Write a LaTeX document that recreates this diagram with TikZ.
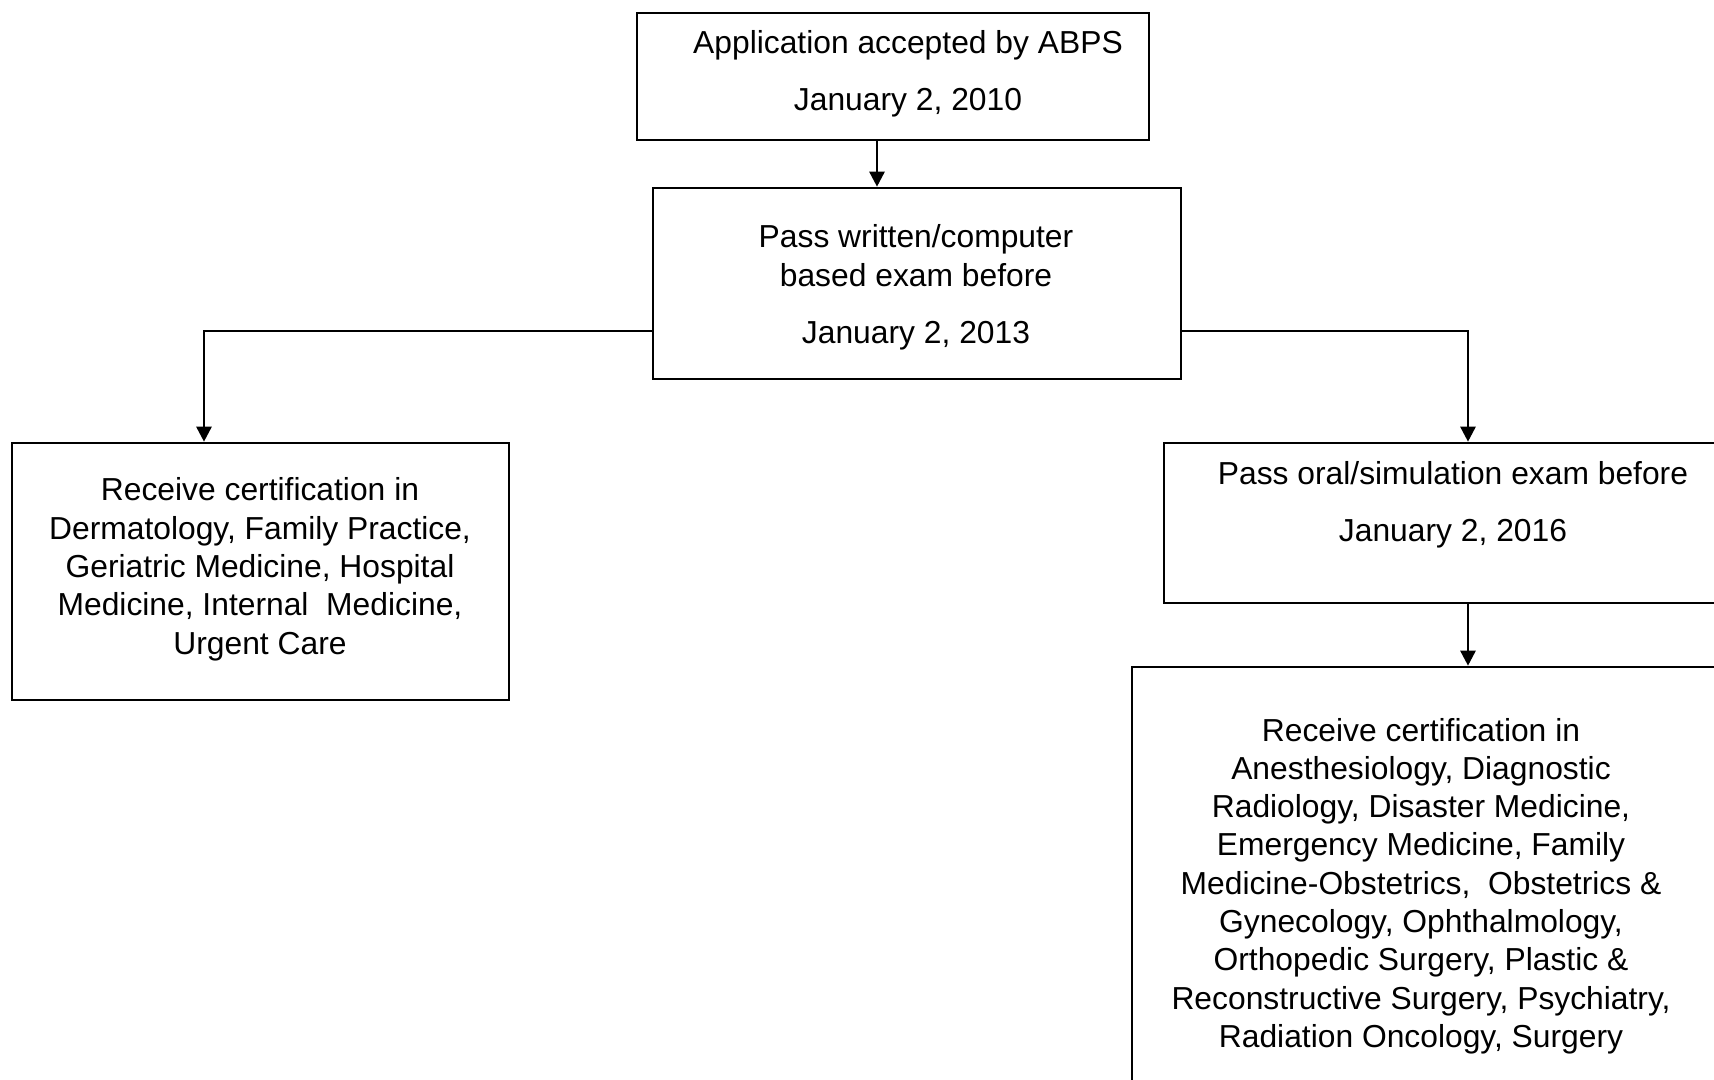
\documentclass[tikz,border=0pt]{standalone}
\usepackage{fontspec}
\setmainfont{Liberation Sans}
\usetikzlibrary{arrows.meta}
\begin{document}
\begin{tikzpicture}[x=0.5pt,y=-0.5pt,
  box/.style={draw=black,line width=1.3pt,fill=none,inner sep=0pt,minimum width=#1},
  txt/.style={anchor=base,inner sep=0pt,font=\fontsize{15.9pt}{19pt}\selectfont},
  arr/.style={line width=1.3pt,-{Triangle[length=7.5pt,width=7.5pt]}}]
\useasboundingbox (0,0) rectangle (1714,1080);
\clip (0,0) rectangle (1714,1080);
% boxes
\node[box=256pt,minimum height=63.5pt] (top) at (893,76.5) {};
\node[box=264pt,minimum height=95.5pt] (mid) at (917,283.5) {};
\node[box=248.5pt,minimum height=128.5pt] (left) at (260.5,571.5) {};
\node[box=278pt,minimum height=80pt] (right) at (1442,523) {};
\node[box=294pt,minimum height=211.5pt] (bot) at (1426,878.5) {};
% texts
\node[txt] (t1a) at (908,54) {Application accepted by ABPS};
\node[txt] (t1b) at (908,110.5) {January 2, 2010};
\node[txt] (t2a) at (916,248) {Pass written/computer};
\node[txt] (t2b) at (916,286.5) {based exam before};
\node[txt] (t2c) at (916,344) {January 2, 2013};
\node[txt] (t3a) at (260,501) {Receive certification in};
\node[txt] (t3b) at (260,539.3) {Dermatology, Family Practice,};
\node[txt] (t3c) at (260,577.6) {Geriatric Medicine, Hospital};
\node[txt] (t3d) at (260,615.9) {Medicine, Internal\ \ Medicine,};
\node[txt] (t3e) at (260,654.2) {Urgent Care};
\node[txt] (t4a) at (1453,485) {Pass oral/simulation exam before};
\node[txt] (t4b) at (1453,542) {January 2, 2016};
\node[txt] (t5a) at (1421,741) {Receive certification in};
\node[txt] (t5b) at (1421,779.3) {Anesthesiology, Diagnostic};
\node[txt] (t5c) at (1421,817.6) {Radiology, Disaster Medicine,};
\node[txt] (t5d) at (1421,855.9) {Emergency Medicine, Family};
\node[txt] (t5e) at (1421,894.2) {Medicine-Obstetrics,\ \ Obstetrics \&};
\node[txt] (t5f) at (1421,932.5) {Gynecology, Ophthalmology,};
\node[txt] (t5g) at (1421,970.8) {Orthopedic Surgery, Plastic \&};
\node[txt] (t5h) at (1421,1009.1) {Reconstructive Surgery, Psychiatry,};
\node[txt] (t5i) at (1421,1047.4) {Radiation Oncology, Surgery};
% connectors
\coordinate (c1) at (877,0);
\coordinate (hl) at (204,331);
\coordinate (hr) at (1468,331);
\draw[arr] (c1 |- top.south) -- (c1 |- mid.north);
\draw[arr] (mid.west |- hl) -| (left.north -| hl);
\draw[arr] (mid.east |- hr) -| (right.north -| hr);
\draw[arr] (right.south -| hr) -- (bot.north -| hr);
\end{tikzpicture}
\end{document}
